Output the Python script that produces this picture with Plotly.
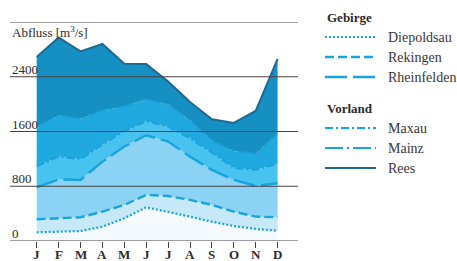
import plotly.graph_objects as go

months = ["J", "F", "M", "A", "M", "J", "J", "A", "S", "O", "N", "D"]
diepoldsau = [127, 136, 146, 209, 332, 493, 429, 356, 282, 219, 176, 151]
rekingen = [317, 332, 347, 429, 527, 673, 658, 600, 527, 429, 356, 347]
rheinfelden = [785, 900, 892, 1160, 1380, 1545, 1453, 1233, 1039, 892, 805, 844]
maxau = [1090, 1235, 1195, 1410, 1605, 1750, 1670, 1500, 1290, 1070, 1040, 1130]
mainz = [1670, 1835, 1785, 1910, 1970, 2070, 2000, 1760, 1470, 1310, 1280, 1570]
rees = [2690, 2975, 2770, 2880, 2590, 2585, 2330, 2030, 1778, 1726, 1900, 2660]
y_ticks = [0, 800, 1600, 2400, 3200]
y_labels = ["0", "800", "1600", "2400", ""]

x = list(range(len(months)))

FONT = "Liberation Serif, DejaVu Serif, Times New Roman, serif"
W, H = 457, 261
L, R, T, B = 10, 159, 22, 20
PW = W - L - R
PH = H - T - B

def px(xp):
    return (xp - L) / PW

def py(yp):
    return (H - B - yp) / PH

bright = "#18a4de"
dark = "#1c6a94"
txt = "#2e2a2a"

series = [
    ("Diepoldsau", diepoldsau, "#f4fafd", bright, "2px,2px", 2.2),
    ("Rekingen", rekingen, "#c6e8f8", bright, "9px,4px", 2.4),
    ("Rheinfelden", rheinfelden, "#8bd3f4", bright, "22px,6px", 2.4),
    ("Maxau", maxau, "#48c2ee", bright, "8px,3px,2px,3px", 2.0),
    ("Mainz", mainz, "#1fa9de", "#1c9fd4", "18px,4px,2px,4px", 1.5),
    ("Rees", rees, "#168fc2", dark, "solid", 2.0),
]

fig = go.Figure()
for i, (name, vals, fc, lc, dash, w) in enumerate(series):
    fig.add_trace(go.Scatter(
        x=x, y=vals, name=name, mode="lines",
        line=dict(color=lc, width=w, dash=dash),
        fill="tozeroy" if i == 0 else "tonexty",
        fillcolor=fc, showlegend=False, hoverinfo="skip",
    ))

shapes = []
for v in y_ticks:
    shapes.append(dict(type="line", xref="paper", yref="y", x0=0, x1=1, y0=v, y1=v,
                       line=dict(color="#4b4040", width=1), layer="above"))

annotations = []
for v, lab in zip(y_ticks, y_labels):
    if lab:
        annotations.append(dict(x=0, xref="paper", y=v, yref="y", text=lab,
                                xanchor="left", yanchor="bottom", showarrow=False,
                                yshift=-2, font=dict(family=FONT, size=13, color=txt)))
annotations.append(dict(x=0, xref="paper", y=3200, yref="y", text="Abfluss [m<sup>3</sup>/s]",
                        xanchor="left", yanchor="top", showarrow=False, yshift=0,
                        font=dict(family=FONT, size=13, color=txt)))
for i, m in enumerate(months):
    annotations.append(dict(x=i, xref="x", y=0, yref="paper", text="<b>" + m + "</b>",
                            xanchor="center", yanchor="top", showarrow=False, yshift=-4,
                            font=dict(family=FONT, size=13, color=txt)))

groups = [
    ("Gebirge", 17, [("Diepoldsau", 37, bright, "2px,2px", 2.2),
                     ("Rekingen", 57, bright, "9px,4px", 2.4),
                     ("Rheinfelden", 77, bright, "22px,6px", 2.4)]),
    ("Vorland", 108, [("Maxau", 128, bright, "8px,3px,2px,3px", 2.0),
                      ("Mainz", 148, bright, "18px,4px,2px,4px", 2.0),
                      ("Rees", 168, dark, "solid", 2.0)]),
]
for title, ty, items in groups:
    annotations.append(dict(x=px(325), y=py(ty), xref="paper", yref="paper",
                            text="<b>" + title + "</b>", xanchor="left", yanchor="middle",
                            showarrow=False, font=dict(family=FONT, size=13, color=txt)))
    for name, iy, c, dash, w in items:
        shapes.append(dict(type="line", xref="paper", yref="paper",
                           x0=px(325), x1=px(376), y0=py(iy), y1=py(iy),
                           line=dict(color=c, width=w, dash=dash)))
        annotations.append(dict(x=px(386), y=py(iy), xref="paper", yref="paper",
                                text=name, xanchor="left", yanchor="middle",
                                showarrow=False, font=dict(family=FONT, size=14, color="#3a3636")))

x0 = -(36.7 - L) / 21.9
x1 = 11 + (298 - 277.6) / 21.9

fig.update_layout(
    width=W, height=H,
    margin=dict(l=L, r=R, t=T, b=B),
    paper_bgcolor="white", plot_bgcolor="white",
    font=dict(family=FONT, size=13, color=txt),
    xaxis=dict(range=[x0, x1], tickvals=x, showticklabels=False, ticks="outside",
               ticklen=6, tickcolor="#4b4040", tickwidth=1, showgrid=False,
               zeroline=False, showline=False, automargin=False, fixedrange=True),
    yaxis=dict(range=[0, 3200], showgrid=False, zeroline=False, showticklabels=False,
               automargin=False, fixedrange=True),
    shapes=shapes, annotations=annotations,
)

fig.write_html("out.html", config={"displayModeBar": False},
               post_script="document.body.style.margin='0px';document.body.style.overflow='hidden';")
